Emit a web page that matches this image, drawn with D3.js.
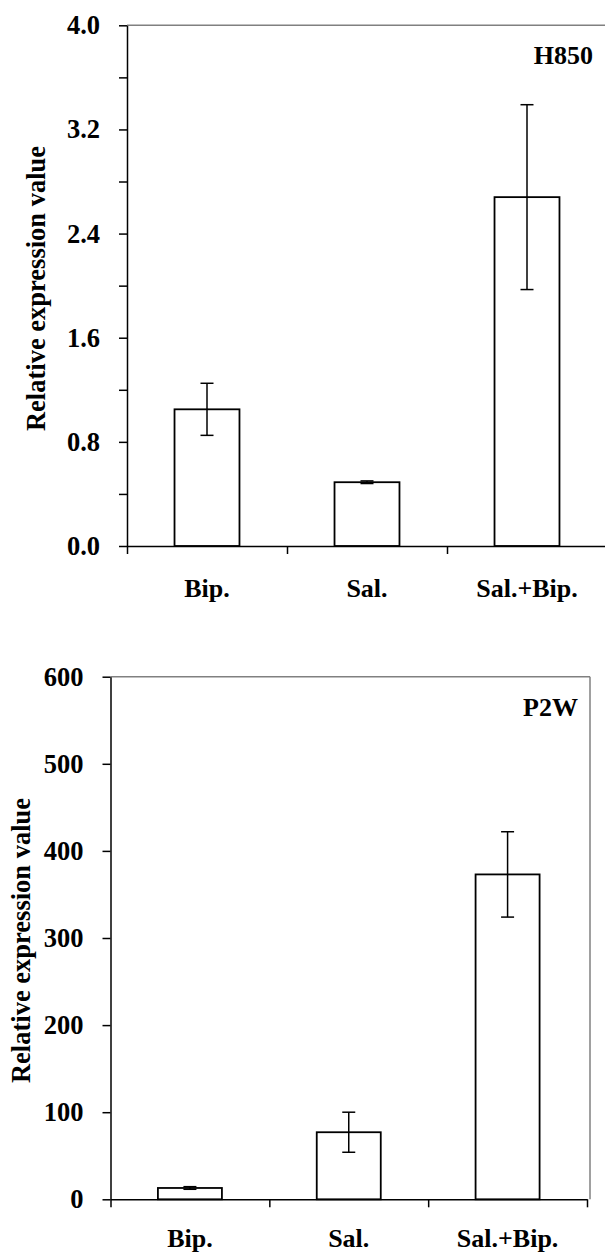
<!DOCTYPE html>
<html>
<head>
<meta charset="utf-8">
<script src="https://cdn.jsdelivr.net/npm/d3@7"></script>
<style>
  body { margin: 0; background: #fff; }
  text { font-family: "Liberation Serif", "Times New Roman", serif; font-weight: bold; fill: #000; }
</style>
</head>
<body>
<div id="wrapper"></div>
<script>
const categories = ["Bip.", "Sal.", "Sal.+Bip."];

const h850Values = [1.05, 0.49, 2.68];
const h850Errors = [0.2, 0.01, 0.71];
const h850Ticks = [0, 0.4, 0.8, 1.2, 1.6, 2.0, 2.4, 2.8, 3.2, 3.6, 4.0];
const h850Labels = [0, 0.8, 1.6, 2.4, 3.2, 4.0];

const p2wValues = [13, 77, 373];
const p2wErrors = [1.5, 23, 49];
const p2wTicks = [0, 100, 200, 300, 400, 500, 600];

const svg = d3.select("#wrapper")
  .append("svg")
    .attr("width", 605)
    .attr("height", 1255)

function drawPanel(opts) {
  const g = svg.append("g")

  const xScale = d3.scaleBand()
    .domain(categories)
    .range([opts.left, opts.right])
    .paddingInner(opts.pad)
    .paddingOuter(opts.pad / 2)

  const edgeScale = d3.scaleLinear()
    .domain([0, categories.length])
    .range([opts.left, opts.right])

  const yScale = d3.scaleLinear()
    .domain(opts.domain)
    .range([opts.bottom, opts.top])

  // gray frame (top, and right when it's inside the page)
  g.append("line")
    .attr("x1", opts.left).attr("x2", opts.frameRight)
    .attr("y1", opts.top).attr("y2", opts.top)
    .attr("stroke", "#808080").attr("stroke-width", 1.5)
  if (opts.frameRight < 605) {
    g.append("line")
      .attr("x1", opts.frameRight).attr("x2", opts.frameRight)
      .attr("y1", opts.top).attr("y2", opts.bottom)
      .attr("stroke", "#808080").attr("stroke-width", 1.5)
  }

  // bars
  g.selectAll("rect.bar")
    .data(opts.values)
    .join("rect")
      .attr("class", "bar")
      .attr("x", (d, i) => xScale(categories[i]))
      .attr("y", d => yScale(d))
      .attr("width", xScale.bandwidth())
      .attr("height", d => opts.bottom - yScale(d))
      .attr("fill", "#fff")
      .attr("stroke", "#000")
      .attr("stroke-width", 1.8)

  // error bars
  const cx = i => xScale(categories[i]) + xScale.bandwidth() / 2
  const errs = g.selectAll("g.err")
    .data(opts.values)
    .join("g")
      .attr("class", "err")
      .attr("stroke", "#000")
      .attr("stroke-width", 1.5)
  errs.append("line")
    .attr("x1", (d, i) => cx(i)).attr("x2", (d, i) => cx(i))
    .attr("y1", (d, i) => yScale(d + opts.errors[i]))
    .attr("y2", (d, i) => yScale(d - opts.errors[i]))
  errs.append("line")
    .attr("x1", (d, i) => cx(i) - 6.5).attr("x2", (d, i) => cx(i) + 6.5)
    .attr("y1", (d, i) => yScale(d + opts.errors[i]))
    .attr("y2", (d, i) => yScale(d + opts.errors[i]))
  errs.append("line")
    .attr("x1", (d, i) => cx(i) - 6.5).attr("x2", (d, i) => cx(i) + 6.5)
    .attr("y1", (d, i) => yScale(d - opts.errors[i]))
    .attr("y2", (d, i) => yScale(d - opts.errors[i]))

  // x axis
  const xAxis = g.append("g")
    .attr("transform", `translate(0, ${opts.bottom})`)
    .call(d3.axisBottom(edgeScale)
      .tickValues(d3.range(categories.length + 1))
      .tickFormat("")
      .tickSizeInner(8)
      .tickSizeOuter(0))
  xAxis.selectAll("path, line").attr("stroke", "#000").attr("stroke-width", 1.5)

  g.selectAll("text.cat")
    .data(categories)
    .join("text")
      .attr("class", "cat")
      .attr("x", d => xScale(d) + xScale.bandwidth() / 2)
      .attr("y", opts.catY)
      .attr("text-anchor", "middle")
      .style("font-size", "26px")
      .text(d => d)

  // y axis
  const yAxis = g.append("g")
    .attr("transform", `translate(${opts.left}, 0)`)
    .call(d3.axisLeft(yScale)
      .tickValues(opts.ticks)
      .tickFormat(d => opts.labels.some(v => Math.abs(v - d) < 1e-9) ? opts.format(d) : "")
      .tickSizeInner(8)
      .tickSizeOuter(0)
      .tickPadding(19))
  yAxis.selectAll("path, line").attr("stroke", "#000").attr("stroke-width", 1.5)
  yAxis.selectAll("text")
    .attr("fill", "#000")
    .style("font-size", "26.5px")
    .style("font-family", "'Liberation Serif', serif")
    .style("font-weight", "bold")

  g.append("text")
    .attr("transform", `translate(${opts.titleX}, ${opts.titleY}) rotate(-90)`)
    .attr("text-anchor", "middle")
    .style("font-size", "26.5px")
    .text("Relative expression value")

  g.append("text")
    .attr("x", opts.nameX)
    .attr("y", opts.nameY)
    .attr("text-anchor", "end")
    .style("font-size", "26px")
    .text(opts.name)
}

drawPanel({
  name: "H850",
  values: h850Values,
  errors: h850Errors,
  domain: [0, 4],
  ticks: h850Ticks,
  labels: h850Labels,
  format: d3.format(".1f"),
  left: 127, right: 607, frameRight: 610,
  top: 25.3, bottom: 546,
  pad: 0.594,
  catY: 597,
  titleX: 44.5, titleY: 288.5,
  nameX: 593, nameY: 64,
})

drawPanel({
  name: "P2W",
  values: p2wValues,
  errors: p2wErrors,
  domain: [0, 600],
  ticks: p2wTicks,
  labels: p2wTicks,
  format: d3.format("d"),
  left: 110.5, right: 587, frameRight: 590,
  top: 676.7, bottom: 1199.3,
  pad: 0.597,
  catY: 1247,
  titleX: 29.5, titleY: 940.5,
  nameX: 578, nameY: 716,
})
</script>
</body>
</html>
